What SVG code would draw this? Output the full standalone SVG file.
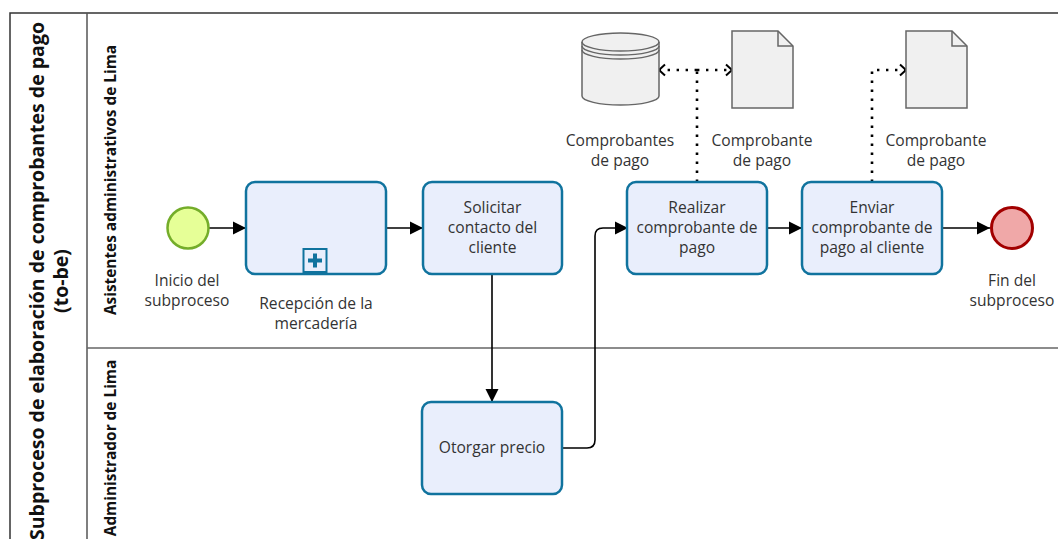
<svg xmlns="http://www.w3.org/2000/svg" width="1058" height="539" viewBox="0 0 1058 539">
<style>
  .t{font-family:"Open Sans","Noto Sans","DejaVu Sans",sans-serif;font-size:15.6px;fill:#333;text-anchor:middle}
  .title{font-family:"Open Sans","Noto Sans","DejaVu Sans",sans-serif;font-size:19.5px;font-weight:bold;fill:#111;text-anchor:middle}
  .lane{font-family:"Open Sans","Noto Sans","DejaVu Sans",sans-serif;font-size:15.4px;font-weight:bold;fill:#111;text-anchor:middle}
  .task{fill:#e9eefc;stroke:#10739e;stroke-width:2.5}
  .flow{fill:none;stroke:#000;stroke-width:1.6}
  .assoc{fill:none;stroke:#000;stroke-width:2.6;stroke-dasharray:2.4 6.6;stroke-linecap:butt}
  .data{fill:#f0f0f0;stroke:#666;stroke-width:1.5}
</style>
<defs>
  <marker id="block" markerUnits="userSpaceOnUse" markerWidth="14" markerHeight="14" refX="13" refY="7" orient="auto">
    <path d="M0,0.5 L13,7 L0,13.5 Z" fill="#000"/>
  </marker>
  <marker id="open" markerUnits="userSpaceOnUse" markerWidth="10" markerHeight="14" refX="8" refY="7" orient="auto">
    <path d="M2,1.5 L8,7 L2,12.5" fill="none" stroke="#000" stroke-width="2"/>
  </marker>
</defs>
<rect width="1058" height="539" fill="#fff"/>
<g id="pool">
  <path d="M10,539 V13 H1058" fill="none" stroke="#333" stroke-width="1.5"/>
  <line x1="87" y1="13" x2="87" y2="539" stroke="#555" stroke-width="1.5"/>
  <line x1="87" y1="348" x2="1058" y2="348" stroke="#666" stroke-width="1.5"/>
  <text class="title" transform="translate(44,281) rotate(-90)">Subproceso de elaboración de comprobantes de pago</text>
  <text class="title" transform="translate(68,281) rotate(-90)">(to-be)</text>
</g>
<g id="lane-asistentes">
  <text class="lane" transform="translate(116,180) rotate(-90)">Asistentes administrativos de Lima</text>
</g>
<g id="lane-administrador">
  <text class="lane" transform="translate(116,448) rotate(-90)">Administrador de Lima</text>
</g>
<g id="connectors">
  <line class="flow" x1="209" y1="228" x2="246" y2="228" marker-end="url(#block)"/>
  <line class="flow" x1="386" y1="228" x2="423" y2="228" marker-end="url(#block)"/>
  <line class="flow" x1="492" y1="274" x2="492" y2="402" marker-end="url(#block)"/>
  <path class="flow" d="M562,448 H587 Q595,448 595,440 V236 Q595,228 603,228 H628" marker-end="url(#block)"/>
  <line class="flow" x1="767" y1="228" x2="802" y2="228" marker-end="url(#block)"/>
  <line class="flow" x1="942" y1="228" x2="990" y2="228" marker-end="url(#block)"/>
  <path class="assoc" d="M697,182 V70"/>
  <path class="assoc" d="M697,70 H659" marker-end="url(#open)"/>
  <path class="assoc" d="M697,70 H732" marker-end="url(#open)"/>
  <path class="assoc" d="M872,182 V70 H906" marker-end="url(#open)"/>
</g>
<g id="start">
  <circle cx="188" cy="228" r="20.5" fill="#e6ff97" stroke="#74ad2a" stroke-width="2.5"/>
  <text class="t" x="187" y="286">Inicio del</text>
  <text class="t" x="187" y="306">subproceso</text>
</g>
<g id="recepcion">
  <rect class="task" x="246" y="182" width="140" height="92" rx="9"/>
  <rect x="303.5" y="249" width="23" height="23" fill="#e9eefc" stroke="#10739e" stroke-width="2"/>
  <path d="M315,253.5 V267.5 M308,260.5 H322" stroke="#10739e" stroke-width="4"/>
  <text class="t" x="316" y="309">Recepción de la</text>
  <text class="t" x="316" y="329">mercadería</text>
</g>
<g id="solicitar">
  <rect class="task" x="423" y="182" width="139" height="92" rx="9"/>
  <text class="t" x="492.5" y="213">Solicitar</text>
  <text class="t" x="492.5" y="233">contacto del</text>
  <text class="t" x="492.5" y="253">cliente</text>
</g>
<g id="otorgar">
  <rect class="task" x="422" y="402" width="140" height="92" rx="9"/>
  <text class="t" x="492" y="453">Otorgar precio</text>
</g>
<g id="realizar">
  <rect class="task" x="627" y="182" width="140" height="92" rx="9"/>
  <text class="t" x="697" y="213">Realizar</text>
  <text class="t" x="697" y="233">comprobante de</text>
  <text class="t" x="697" y="253">pago</text>
</g>
<g id="enviar">
  <rect class="task" x="802" y="182" width="140" height="92" rx="9"/>
  <text class="t" x="872" y="213">Enviar</text>
  <text class="t" x="872" y="233">comprobante de</text>
  <text class="t" x="872" y="253">pago al cliente</text>
</g>
<g id="end">
  <circle cx="1012" cy="228" r="20.5" fill="#f0a8a8" stroke="#a20000" stroke-width="3"/>
  <text class="t" x="1012" y="286">Fin del</text>
  <text class="t" x="1012" y="306">subproceso</text>
</g>
<g id="datastore">
  <path class="data" d="M582,42 A38.5,9 0 0,1 659,42 V96 A38.5,9 0 0,1 582,96 Z"/>
  <path d="M582,42 A38.5,9 0 0,0 659,42 M582,46 A38.5,9 0 0,0 659,46 M582,50 A38.5,9 0 0,0 659,50" fill="none" stroke="#666" stroke-width="1.5"/>
  <text class="t" x="620" y="146">Comprobantes</text>
  <text class="t" x="620" y="166">de pago</text>
</g>
<g id="doc1">
  <path class="data" d="M732,31 H778 L793,46 V108 H732 Z"/>
  <path d="M778,31 V46 H793" fill="none" stroke="#666" stroke-width="1.5"/>
  <text class="t" x="762" y="146">Comprobante</text>
  <text class="t" x="762" y="166">de pago</text>
</g>
<g id="doc2">
  <path class="data" d="M906,31 H952 L967,46 V108 H906 Z"/>
  <path d="M952,31 V46 H967" fill="none" stroke="#666" stroke-width="1.5"/>
  <text class="t" x="936" y="146">Comprobante</text>
  <text class="t" x="936" y="166">de pago</text>
</g>
</svg>
